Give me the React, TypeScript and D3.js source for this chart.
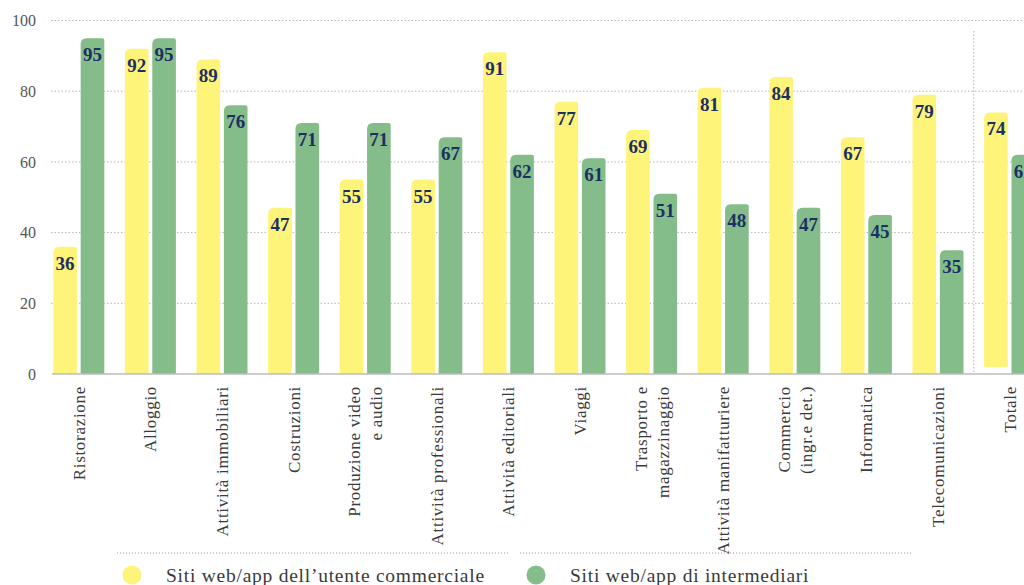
import React from "react";
import * as d3 from "d3";

const categories: string[][] = [
  ["Ristorazione"],
  ["Alloggio"],
  ["Attività immobiliari"],
  ["Costruzioni"],
  ["Produzione video", "e audio"],
  ["Attività professionali"],
  ["Attività editoriali"],
  ["Viaggi"],
  ["Trasporto e", "magazzinaggio"],
  ["Attività manifatturiere"],
  ["Commercio", "(ingr.e det.)"],
  ["Informatica"],
  ["Telecomunicazioni"],
  ["Totale"],
];
const utenteCommerciale = [36, 92, 89, 47, 55, 55, 91, 77, 69, 81, 84, 67, 79, 74];
const intermediari = [95, 95, 76, 71, 71, 67, 62, 61, 51, 48, 47, 45, 35, 62];
const utenteBase = [0, 0, 0, 0, 0, 0, 0, 0, 0, 0, 0, 0, 0, 2];
const yTicks = [0, 20, 40, 60, 80, 100];
const seriesNames = ["Siti web/app dell’utente commerciale", "Siti web/app di intermediari"];

const W = 1024;
const H = 585;
const YELLOW = "#fff47a";
const GREEN = "#84bd8a";
const NAVY = "#1c2f63";
const FONT = "'Liberation Serif', 'DejaVu Serif', serif";

function barPath(x: number, y: number, w: number, h: number, rl: number, rr: number) {
  if (h <= 0) return "";
  rl = Math.min(rl, h, w / 2);
  rr = Math.min(rr, h, w / 2);
  return `M${x},${y + h}V${y + rl}Q${x},${y} ${x + rl},${y}H${x + w - rr}Q${x + w},${y} ${x + w},${y + rr}V${y + h}Z`;
}

export default function App() {
  const keys = categories.map((c) => c.join(" "));
  const step = 71.6;
  const x0 = d3
    .scaleBand<string>()
    .domain(keys)
    .range([43, 43 + step * keys.length])
    .paddingInner(0.288)
    .paddingOuter(0.144);
  const x1 = d3.scaleBand<number>().domain([0, 1]).range([0, x0.bandwidth()]).paddingInner(0.137);
  const y = d3.scaleLinear().domain([0, 100]).range([374, 20.5]);

  const series = [utenteCommerciale, intermediari];
  const colors = [YELLOW, GREEN];

  const sepX = (x0(keys[12])! + x0.bandwidth() + x0(keys[13])!) / 2;

  return (
    <svg
      width={W}
      height={H}
      style={{ position: "absolute", left: 0, top: 0, background: "#fff" }}
      fontFamily={FONT}
    >
      {/* gridlines */}
      {yTicks.filter((t) => t > 0).map((t) => (
        <line
          key={t}
          x1={51}
          x2={W}
          y1={y(t)}
          y2={y(t)}
          stroke="#b5b5b5"
          strokeWidth={1}
          strokeDasharray="1.5,2"
        />
      ))}
      {/* y tick labels */}
      {yTicks.map((t) => (
        <text
          key={t}
          x={36}
          y={y(t)}
          dy="0.35em"
          textAnchor="end"
          fontSize={16}
          fill="#555"
        >
          {t}
        </text>
      ))}
      {/* separator */}
      <line
        x1={sepX}
        x2={sepX}
        y1={31}
        y2={y(0)}
        stroke="#b5b5b5"
        strokeWidth={1}
        strokeDasharray="1.5,2"
      />
      {/* bars */}
      {keys.map((k, i) => (
        <g key={k} transform={`translate(${x0(k)},0)`}>
          {series.map((s, j) => {
            const bx = x1(j)!;
            const bw = x1.bandwidth();
            const base = j === 0 ? utenteBase[i] : 0;
            const top = y(s[i]);
            const bottom = y(base);
            return (
              <g key={j}>
                <path d={barPath(bx, top, bw, bottom - top, 6, 2)} fill={colors[j]} />
                <text
                  x={bx + bw / 2}
                  y={top + 23}
                  textAnchor="middle"
                  fontSize={19}
                  fontWeight="bold"
                  fill={NAVY}
                >
                  {s[i]}
                </text>
              </g>
            );
          })}
        </g>
      ))}
      {/* axis line */}
      <line x1={52} x2={W} y1={y(0)} y2={y(0)} stroke="#bdbdbd" strokeWidth={1.5} />
      {/* category labels */}
      {categories.map((lines, i) => {
        const cx = x0(keys[i])! + x0.bandwidth() / 2;
        return lines.map((ln, li) => {
          const lx = cx + (li - (lines.length - 1) / 2) * 22;
          return (
            <text
              key={`${i}-${li}`}
              transform={`translate(${lx},386) rotate(-90)`}
              dy="0.35em"
              textAnchor="end"
              fontSize={17}
              letterSpacing={0.7}
              fill="#3a3a3a"
            >
              {ln}
            </text>
          );
        });
      })}
      {/* legend */}
      <line x1={117} x2={510} y1={553} y2={553} stroke="#999" strokeWidth={1} strokeDasharray="1,2" />
      <line x1={520} x2={913} y1={553} y2={553} stroke="#999" strokeWidth={1} strokeDasharray="1,2" />
      {[0, 1].map((j) => {
        const cx = j === 0 ? 132 : 536;
        const tx = j === 0 ? 166 : 570;
        return (
          <g key={j}>
            <circle cx={cx} cy={575} r={9.5} fill={colors[j]} />
            <text x={tx} y={582} fontSize={19.5} letterSpacing={0.75} fill="#3a3a3a">
              {seriesNames[j]}
            </text>
          </g>
        );
      })}
    </svg>
  );
}
